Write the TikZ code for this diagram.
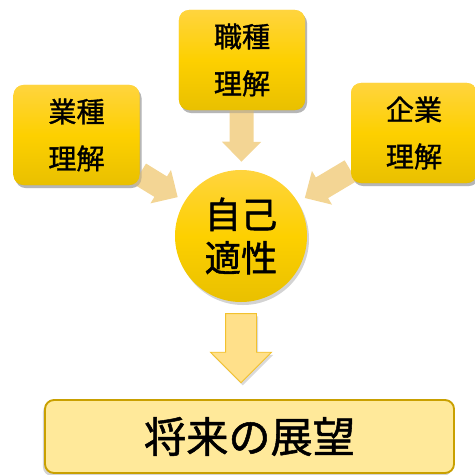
\documentclass[tikz,border=0pt]{standalone}
\usepackage{fontspec}
\setmainfont{Noto Sans CJK JP}[RawFeature={embolden=1.2}]
\usetikzlibrary{arrows.meta,shapes.arrows,shadows}
\definecolor{goldtop}{HTML}{FFD43E}
\definecolor{goldmid}{HTML}{FDD000}
\definecolor{goldbot}{HTML}{E9C000}
\definecolor{tanarrow}{HTML}{F3D594}
\definecolor{paleyellow}{HTML}{FFE99A}
\definecolor{darkgold}{HTML}{C9A000}
\definecolor{arrowfill}{HTML}{FFE08A}
\definecolor{arrowline}{HTML}{F2C12E}
\begin{document}
\begin{tikzpicture}[x=0.03cm,y=-0.03cm,
  topicbox/.style={rounded corners=0.3cm, minimum width=3.78cm, minimum height=3cm,
    top color=goldtop, bottom color=goldbot, middle color=goldmid,
    drop shadow={opacity=0.35,shadow xshift=0.06cm,shadow yshift=-0.09cm},
    font=\fontsize{24}{40}\selectfont, align=center},
  selfcircle/.style={circle, minimum size=3.96cm, inner sep=0pt,
    top color=goldtop, bottom color=goldbot, middle color=goldmid,
    drop shadow={opacity=0.35,shadow xshift=0.06cm,shadow yshift=-0.09cm},
    font=\fontsize{31}{37}\selectfont, align=center},
  feed/.style={line width=0.72cm, draw=tanarrow,
    -{Triangle[width=1.14cm,length=0.6cm]}, shorten >=0.24cm},
  downarrow/.style={single arrow, shape border rotate=270, draw=arrowline, fill=arrowfill,
    line width=0.8pt, minimum height=2.07cm, inner sep=0.45cm,
    single arrow head extend=0.45cm,
    drop shadow={opacity=0.3,shadow xshift=0.05cm,shadow yshift=-0.08cm}},
  goalbox/.style={rounded corners=0.27cm, draw=darkgold, line width=1.6pt, fill=paleyellow,
    minimum width=12.27cm, minimum height=2.19cm,
    drop shadow={opacity=0.35,shadow xshift=-0.06cm,shadow yshift=-0.09cm},
    font=\fontsize{36}{40}\selectfont}]
\useasboundingbox (0,0) rectangle (475,475);
% topics
\node[topicbox] (shuku) at (242,60) {職種\\理解};
\node[topicbox] (gyo) at (76.5,135) {業種\\理解};
\node[topicbox] (kigyo) at (414,133) {企業\\理解};
% centre
\node[selfcircle] (jiko) at (241,236) {自己\\適性};
% arrows into the centre
\draw[feed] (shuku) -- (jiko);
\draw[feed] (gyo) -- (jiko);
\draw[feed] (kigyo) -- (jiko);
% redraw the boxes over the arrow tails
\node[topicbox] at (shuku) {職種\\理解};
\node[topicbox] at (gyo) {業種\\理解};
\node[topicbox] at (kigyo) {企業\\理解};
% outcome
\node[goalbox] (goal) at (249.5,436.5) {将来の展望};
\node[downarrow, anchor=tail] (down) at ([yshift=-0.33cm]jiko.south) {};
\end{tikzpicture}
\end{document}
